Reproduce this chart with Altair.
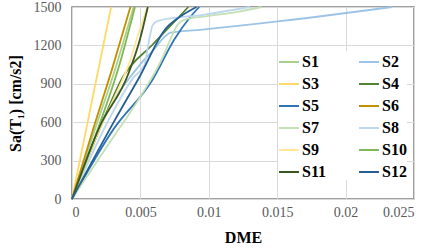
import altair as alt
import pandas as pd

series_names = ["S1", "S2", "S3", "S4", "S5", "S6", "S7", "S8", "S9", "S10", "S11", "S12"]
series_colors = ["#A9D18E", "#9DC3E6", "#FFD966", "#548235", "#2E75B6", "#BF9000",
                 "#C5E0B4", "#BDD7EE", "#FFE699", "#7FB857", "#385723", "#255E91"]

s1_dme = [0, 0.0016, 0.0032, 0.0045]
s1_sa = [0, 520, 1030, 1500]
s2_dme = [0, 0.002, 0.0049, 0.0060, 0.0068, 0.0072, 0.0097, 0.0152, 0.0234]
s2_sa = [0, 560, 1040, 1170, 1270, 1300, 1325, 1389, 1500]
s3_dme = [0, 0.0014, 0.00286]
s3_sa = [0, 735, 1500]
s4_dme = [0, 0.0020, 0.0037, 0.0059, 0.0074, 0.0085]
s4_sa = [0, 540, 950, 1207, 1375, 1500]
s5_dme = [0, 0.003, 0.0059, 0.0075, 0.0086, 0.0093]
s5_sa = [0, 540, 934, 1250, 1416, 1500]
s6_dme = [0, 0.0015, 0.0030, 0.00427]
s6_sa = [0, 530, 1040, 1500]
s7_dme = [0, 0.0029, 0.0050, 0.0066, 0.0072, 0.0077, 0.0082, 0.0100, 0.0120, 0.01385]
s7_sa = [0, 465, 800, 1100, 1250, 1360, 1400, 1430, 1460, 1500]
s8_dme = [0, 0.0025, 0.0045, 0.0053, 0.0056, 0.0059, 0.0063, 0.0097, 0.0130]
s8_sa = [0, 580, 950, 1050, 1220, 1360, 1392, 1441, 1500]
s9_dme = [0, 0.0020, 0.0037, 0.0042, 0.0048, 0.0052, 0.0055]
s9_sa = [0, 540, 934, 1064, 1272, 1400, 1500]
s10_dme = [0, 0.0018, 0.0035, 0.0046]
s10_sa = [0, 520, 1060, 1500]
s11_dme = [0, 0.0020, 0.0041, 0.0050, 0.00554]
s11_sa = [0, 560, 973, 1260, 1500]
s12_dme = [0, 0.0031, 0.0049, 0.0069, 0.0076, 0.0091]
s12_sa = [0, 610, 947, 1337, 1402, 1500]

all_dme = [s1_dme, s2_dme, s3_dme, s4_dme, s5_dme, s6_dme, s7_dme, s8_dme, s9_dme, s10_dme, s11_dme, s12_dme]
all_sa = [s1_sa, s2_sa, s3_sa, s4_sa, s5_sa, s6_sa, s7_sa, s8_sa, s9_sa, s10_sa, s11_sa, s12_sa]

x_ticks = [0, 0.005, 0.01, 0.015, 0.02, 0.025]
y_ticks = [0, 300, 600, 900, 1200, 1500]

rows = []
for name, xs, ys in zip(series_names, all_dme, all_sa):
    for i, (xv, yv) in enumerate(zip(xs, ys)):
        rows.append({"series": name, "DME": xv, "Sa": yv, "idx": i})
df = pd.DataFrame(rows)

FONT = "Liberation Serif"

chart = alt.Chart(df).mark_line(strokeWidth=1.8, interpolate="monotone").encode(
    x=alt.X("DME:Q", scale=alt.Scale(domain=[0, 0.025], nice=False),
            axis=alt.Axis(values=x_ticks, title="DME", format="~g", grid=True,
                          ticks=False, domain=False, labelPadding=6, titlePadding=10,
                          labelFont=FONT, labelFontSize=14, labelColor="#595959",
                          titleFont=FONT, titleFontSize=16, titleFontWeight="bold",
                          titleColor="#000000")),
    y=alt.Y("Sa:Q", scale=alt.Scale(domain=[0, 1500], nice=False),
            axis=alt.Axis(values=y_ticks, title="Sa(T₁) [cm/s2]", format="d", grid=True,
                          ticks=False, domain=False, labelPadding=11, titlePadding=10,
                          labelFont=FONT, labelFontSize=14, labelColor="#595959",
                          titleFont=FONT, titleFontSize=16, titleFontWeight="bold",
                          titleColor="#000000")),
    color=alt.Color("series:N", sort=series_names,
                    scale=alt.Scale(domain=series_names, range=series_colors),
                    legend=alt.Legend(title=None, orient="none", legendX=206, legendY=44,
                                      columns=2, direction="horizontal",
                                      symbolType="stroke", symbolSize=400,
                                      symbolStrokeWidth=2, labelFont=FONT, labelFontSize=16,
                                      labelFontWeight="bold", labelColor="#000000",
                                      labelOffset=2, columnPadding=28, rowPadding=3,
                                      fillColor="white")),
    order=alt.Order("idx:Q"),
).properties(
    width=342, height=192,
    autosize=alt.AutoSizeParams(type="none"),
    padding={"left": 72, "top": 7, "right": 20, "bottom": 51},
).configure_view(
    stroke="#808080", strokeWidth=1.5
).configure_axis(
    gridColor="#D9D9D9", gridWidth=1,
)

chart.save("out.html", embed_options={"renderer": "svg", "actions": False})
